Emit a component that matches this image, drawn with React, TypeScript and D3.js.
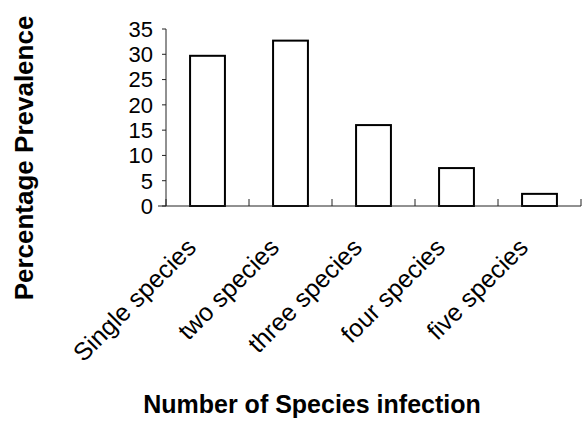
import React from "react";
import * as d3 from "d3";

const categories = ["Single species", "two species", "three species", "four species", "five species"];
const prevalence = [29.7, 32.7, 16.0, 7.5, 2.4];
const yTicks = [0, 5, 10, 15, 20, 25, 30, 35];

const W = 586;
const H = 422;
const margin = { top: 29, right: 5, bottom: 216, left: 166 };
const font = "'Liberation Sans', Arial, sans-serif";

const App = () => {
  const x = d3.scaleBand<string>()
    .domain(categories)
    .range([margin.left, W - margin.right])
    .padding(0);

  const y = d3.scaleLinear()
    .domain([0, 35])
    .range([H - margin.bottom, margin.top]);

  const barW = x.bandwidth() * 0.42;
  const base = y(0);

  // band edges for the category tick marks
  const edges = categories.map(c => x(c)!).concat([x.range()[1]]);

  return (
    <svg width={W} height={H} style={{ position: "absolute", left: 0, top: 0, background: "#fff" }}>
      {/* bars */}
      {categories.map((c, i) => (
        <rect
          key={c}
          x={x(c)! + x.bandwidth() / 2 - barW / 2}
          y={y(prevalence[i])}
          width={barW}
          height={base - y(prevalence[i])}
          fill="#fff"
          stroke="#000"
          strokeWidth={2}
        />
      ))}

      {/* y axis */}
      <line x1={margin.left} x2={margin.left} y1={y(35)} y2={base} stroke="#222" strokeWidth={1} />
      {yTicks.map(t => (
        <g key={t}>
          <line x1={margin.left - 4} x2={margin.left} y1={y(t)} y2={y(t)} stroke="#222" />
          <text
            x={margin.left - 13}
            y={y(t)}
            dy="0.36em"
            textAnchor="end"
            fontFamily={font}
            fontSize={22}
            fill="#000"
          >
            {t}
          </text>
        </g>
      ))}

      {/* x axis */}
      <line x1={margin.left - 8} x2={x.range()[1]} y1={base} y2={base} stroke="#222" strokeWidth={1} />
      {edges.map((e, i) => (
        <line key={i} x1={e} x2={e} y1={base} y2={base - 7} stroke="#222" />
      ))}
      {categories.map(c => {
        const cx = x(c)! + x.bandwidth() / 2 - 10;
        const cy = base + 43;
        return (
          <text
            key={c}
            transform={`translate(${cx},${cy}) rotate(-45)`}
            textAnchor="end"
            fontFamily={font}
            fontSize={25}
            fill="#000"
          >
            {c}
          </text>
        );
      })}

      {/* axis titles */}
      <text
        transform="translate(33,158) rotate(-90)"
        textAnchor="middle"
        fontFamily={font}
        fontWeight="bold"
        fontSize={26}
        fill="#000"
      >
        Percentage Prevalence
      </text>
      <text
        x={312}
        y={413}
        textAnchor="middle"
        fontFamily={font}
        fontWeight="bold"
        fontSize={25}
        fill="#000"
      >
        Number of Species infection
      </text>
    </svg>
  );
};

export default App;
